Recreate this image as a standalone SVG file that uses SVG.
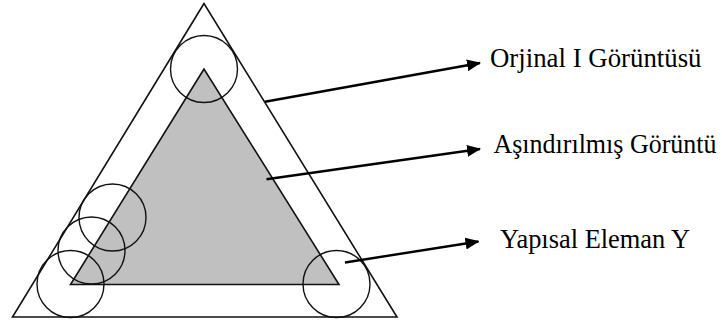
<svg xmlns="http://www.w3.org/2000/svg" width="722" height="322" viewBox="0 0 722 322">
<style>
.tri{fill:none;stroke:#111;stroke-width:1.6;stroke-linejoin:miter}
.inner{fill:#c0c0c0;stroke:#111;stroke-width:1.6}
.se{fill:none;stroke:#111;stroke-width:1.4}
.conn{stroke:#000;stroke-width:2.4;fill:none;marker-end:url(#ah)}
</style>
<defs>
<marker id="ah" viewBox="0 0 14 12" refX="13" refY="6" markerWidth="14" markerHeight="12" markerUnits="userSpaceOnUse" orient="auto">
<path d="M0,0 L14,6 L0,12 Z" fill="#000"/>
</marker>
</defs>
<rect width="722" height="322" fill="#fff"/>
<g id="original">
<polygon class="tri" points="204,3.5 12.5,317 397,317"/>
</g>
<g id="eroded">
<polygon class="inner" points="204,69 70.5,284.5 339,284.5"/>
</g>
<g id="structuring-elements">
<circle class="se" cx="204" cy="69" r="33.5"/>
<circle class="se" cx="70.5" cy="284" r="33.5"/>
<circle class="se" cx="91.5" cy="250.5" r="33.5"/>
<circle class="se" cx="112.5" cy="217.5" r="33.5"/>
<circle class="se" cx="336.5" cy="284" r="33.5"/>
</g>
<g id="connectors">
<line class="conn" x1="265" y1="101.7" x2="480" y2="63"/>
<line class="conn" x1="266.5" y1="179.3" x2="480" y2="149"/>
<line class="conn" x1="345" y1="262.5" x2="478.5" y2="241.5"/>
</g>
<g id="label-original">
<text x="490" y="66.5" font-family="Liberation Serif, serif" font-size="26.5" fill="#000" textLength="211.5" lengthAdjust="spacingAndGlyphs">Orjinal I Görüntüsü</text>
</g>
<g id="label-eroded">
<text x="493.5" y="153" font-family="Liberation Serif, serif" font-size="26.5" fill="#000" textLength="223" lengthAdjust="spacingAndGlyphs">Aşındırılmış Görüntü</text>
</g>
<g id="label-se">
<text x="500" y="248.3" font-family="Liberation Serif, serif" font-size="26.5" fill="#000" textLength="190" lengthAdjust="spacingAndGlyphs">Yapısal Eleman Y</text>
</g>
</svg>
